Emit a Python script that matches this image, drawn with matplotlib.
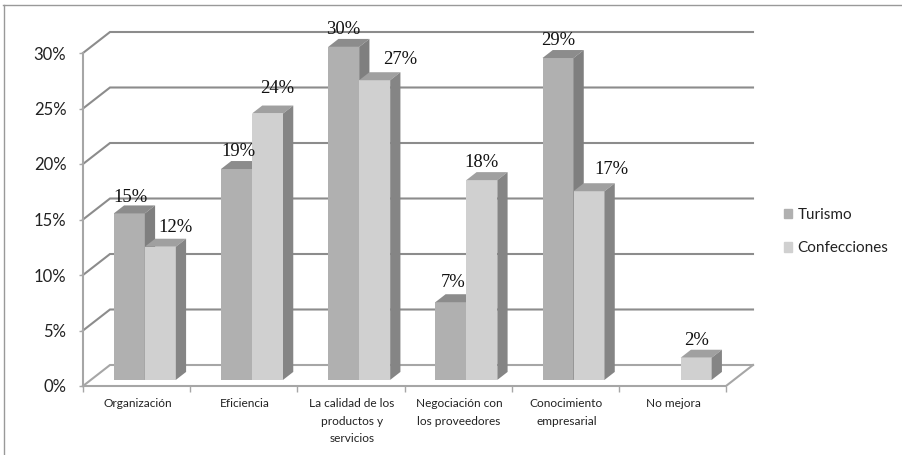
from matplotlib import pyplot as plt
from matplotlib.patches import Polygon, Rectangle
import numpy as np

categories = ['Organización', 'Eficiencia', 'La calidad de los\nproductos y\nservicios',
              'Negociación con\nlos proveedores', 'Conocimiento\nempresarial', 'No mejora']
turismo = [15, 19, 30, 7, 29, 0]
confecciones = [12, 24, 27, 18, 17, 2]
y_ticks = [0, 5, 10, 15, 20, 25, 30]

# pixel sizes of the fake 3d look
fig_w, fig_h = 902, 455
left, right, top, bottom = 83, 726, 53, 386
px_x = (right - left) / 6
px_y = (bottom - top) / 30
wall_dx, wall_dy = 27 / px_x, 21 / px_y
bar_w = 31 / px_x
front_d, back_d = 0.29, 0.67

GRID = '#8c8c8c'
AXIS = '#a6a6a6'

# hand placed labels in the original, pixel nudges per category
tur_nudge = {0: (1, -2), 1: (2, 0), 3: (2, 2)}
con_nudge = {0: (15, 2), 1: (10, 8), 2: (26, 3), 4: (22, 4)}


def proj(x, y, d):
    return x + d * wall_dx, y + d * wall_dy


def draw_bar(ax, x, val, front, side, roof, z):
    x0, y0 = proj(x, 0, front_d)
    ax.bar(x0, val, bar_w, bottom=y0, align='edge', color=front, zorder=z, clip_on=False)
    a = proj(x, val, front_d)
    b = proj(x + bar_w, val, front_d)
    c = proj(x + bar_w, val, back_d)
    d = proj(x, val, back_d)
    e = proj(x + bar_w, 0, front_d)
    f = proj(x + bar_w, 0, back_d)
    ax.add_patch(Polygon([a, b, c, d], color=roof, lw=0, zorder=z, clip_on=False))
    ax.add_patch(Polygon([b, e, f, c], color=side, lw=0, zorder=z, clip_on=False))


def bar_label(ax, x, val, nudge):
    y_top = proj(x, val, back_d)[1]
    x_mid = proj(x + bar_w / 2, 0, front_d)[0]
    ax.annotate(str(val) + '%', (x_mid, y_top), xytext=(nudge[0], 1 + nudge[1]),
                textcoords='offset pixels', ha='center', va='bottom', fontsize=13.4,
                family='Liberation Serif', color='#111111', zorder=6, annotation_clip=False)


plt.rcParams['font.family'] = ['Lato', 'DejaVu Sans']
fig = plt.figure(figsize=(fig_w / 100, fig_h / 100), dpi=100)
ax = fig.add_axes([left / fig_w, 1 - bottom / fig_h, (right - left) / fig_w, (bottom - top) / fig_h])
ax.set_xlim(0, 6)
ax.set_ylim(0, 30)
for s in ax.spines.values():
    s.set_visible(False)

# walls
for t in y_ticks:
    xa, ya = proj(0, t, 1)
    xb, yb = proj(6, t, 1)
    ax.plot([0, xa, xb], [t, ya, yb], color=GRID if t else AXIS, lw=1.5, zorder=1,
            clip_on=False, solid_joinstyle='miter')
ax.plot([0, 0], [0, 30], color=AXIS, lw=1.5, zorder=1, clip_on=False)
ax.plot([0, 6, proj(6, 0, 1)[0]], [0, 0, proj(6, 0, 1)[1]], color=AXIS, lw=1.5, zorder=1, clip_on=False)

ax.set_xticks(np.arange(7))
ax.set_xticklabels([])
ax.set_yticks(y_ticks)
ax.set_yticklabels([str(t) + '%' for t in y_ticks], fontsize=12, color='#222222')
ax.tick_params(axis='y', length=3, width=1, color=AXIS, pad=9)
ax.tick_params(axis='x', length=4, width=1, color=AXIS)

for i, name in enumerate(categories):
    ax.text(i + 0.51, -1.1, name, ha='center', va='top', fontsize=8.6, color='#222222', linespacing=1.7)

# bars, left to right so the front faces cover the neighbour's side
start = 0.5 - bar_w - front_d * wall_dx + 0.077
for i in range(6):
    x = i + start
    if turismo[i] > 0:
        draw_bar(ax, x, turismo[i], '#b0b0b0', '#7f7f7f', '#8c8c8c', 3)
        bar_label(ax, x, turismo[i], tur_nudge.get(i, (0, 0)))
    x2 = x + bar_w
    draw_bar(ax, x2, confecciones[i], '#d0d0d0', '#858585', '#a0a0a0', 4)
    bar_label(ax, x2, confecciones[i], con_nudge.get(i, (0, 0)))

handles = [Rectangle((0, 0), 1, 1, color='#b0b0b0'), Rectangle((0, 0), 1, 1, color='#d0d0d0')]
fig.legend(handles, ['Turismo', 'Confecciones'], loc='upper left', bbox_to_anchor=(784 / fig_w, 1 - 208 / fig_h),
           frameon=False, fontsize=11, handlelength=0.53, handleheight=0.6, handletextpad=0.35,
           labelspacing=1.27, labelcolor='#222222', borderpad=0, borderaxespad=0)

# outer picture frame
fig.add_artist(plt.Line2D([3 / fig_w, 1], [1 - 4.5 / fig_h, 1 - 4.5 / fig_h], color='#999999', lw=1))
fig.add_artist(plt.Line2D([3.5 / fig_w, 3.5 / fig_w], [0, 1 - 4.5 / fig_h], color='#999999', lw=1))

fig.savefig('out.png', dpi=100)
